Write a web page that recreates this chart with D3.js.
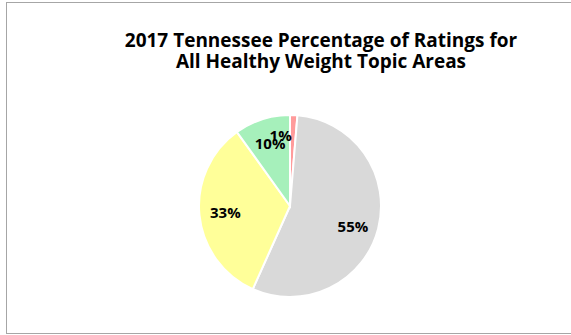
<!DOCTYPE html>
<html>
<head>
<meta charset="utf-8">
<script src="https://cdn.jsdelivr.net/npm/d3@7"></script>
<style>
  body { margin: 0; background: #fff; }
  text { font-family: "Open Sans", Lato, sans-serif; font-weight: bold; fill: #000; }
</style>
</head>
<body>
<div class="visArea"></div>
<script>
// Set up size
var width = 571;
var height = 335;

// Data (clockwise from 12 o'clock)
var categories = ['Red', 'Gray', 'Yellow', 'Green'];
var shares = [1.3, 55.4, 33.4, 9.9];
var labels = ['1%', '55%', '33%', '10%'];
var colors = ['#FF9B9B', '#D9D9D9', '#FFFF99', '#A6F0BB'];
var titleLines = ['2017 Tennessee Percentage of Ratings for', 'All Healthy Weight Topic Areas'];

var radius = 91;
var cx = 290;
var cy = 206;
var labelRadius = 65;

var svg = d3.select('.visArea')
  .append('svg')
  .attr('width', width)
  .attr('height', height);

// chart border
svg.append('rect')
  .attr('x', 6.5)
  .attr('y', 2.5)
  .attr('width', width)
  .attr('height', 331)
  .style('fill', 'none')
  .style('stroke', '#a6a6a6');

// title
svg.selectAll('.title')
  .data(titleLines)
  .enter()
  .append('text')
  .attr('class', 'title')
  .attr('x', 321)
  .attr('y', (d, i) => 47 + i * 21)
  .attr('text-anchor', 'middle')
  .style('font-size', '19px')
  .text(d => d);

var data = categories.map((c, i) => ({name: c, value: shares[i], label: labels[i], color: colors[i]}));

var pie = d3.pie()
  .sort(null)
  .value(d => d.value);

var arc = d3.arc()
  .innerRadius(0)
  .outerRadius(radius);

var labelArc = d3.arc()
  .innerRadius(labelRadius)
  .outerRadius(labelRadius);

var g = svg.append('g')
  .attr('transform', 'translate(' + cx + ',' + cy + ')');

var arcs = pie(data);

g.selectAll('path')
  .data(arcs)
  .enter()
  .append('path')
  .attr('d', arc)
  .style('fill', d => d.data.color)
  .style('stroke', '#fff')
  .style('stroke-width', 2);

// labels; a tiny slice gets its label pulled back inside the pie
function labelPos(d) {
  var c = labelArc.centroid(d);
  if (d.data.value < 3) return [c[0] - 1, c[1] - 5];
  if (d.data.value > 50) return [c[0], c[1] + 5];
  return c;
}

g.selectAll('.slice-label')
  .data(arcs)
  .enter()
  .append('text')
  .attr('class', 'slice-label')
  .attr('x', d => labelPos(d)[0])
  .attr('y', d => labelPos(d)[1])
  .attr('dy', '0.35em')
  .attr('text-anchor', d => d.data.value < 3 ? 'end' : 'middle')
  .style('font-size', '15px')
  .text(d => d.data.label);
</script>
</body>
</html>
